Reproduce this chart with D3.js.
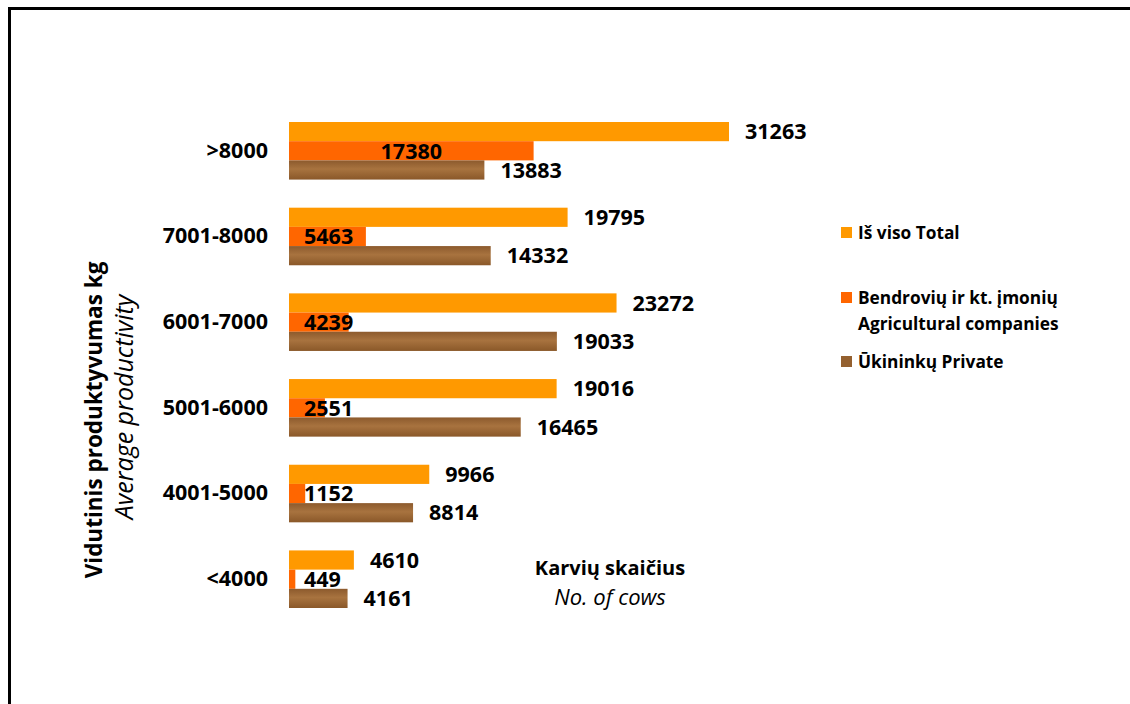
<!DOCTYPE html>
<html>
<head>
<meta charset="utf-8">
<script src="https://cdn.jsdelivr.net/npm/d3@7"></script>
<style>
  body { margin: 0; background: #fff; }
  text { font-family: "Open Sans", "Noto Sans", sans-serif; fill: #000; }
</style>
</head>
<body>
<div id="chart"></div>
<script>
// Chart data
var categories = [">8000", "7001-8000", "6001-7000", "5001-6000", "4001-5000", "<4000"];
var totalCows = [31263, 19795, 23272, 19016, 9966, 4610];
var companyCows = [17380, 5463, 4239, 2551, 1152, 449];
var privateCows = [13883, 14332, 19033, 16465, 8814, 4161];
var seriesNames = ["Iš viso Total", "Bendrovių ir kt. įmonių\nAgricultural companies", "Ūkininkų Private"];
var seriesKeys = ["total", "company", "private"];

var svgWidth = 1130;
var svgHeight = 704;

var svg = d3.select("#chart")
  .append("svg")
  .attr("width", svgWidth)
  .attr("height", svgHeight);

// wood-like fill for private farms
var defs = svg.append("defs");
var grad = defs.append("linearGradient")
  .attr("id", "wood")
  .attr("x1", 0).attr("y1", 0).attr("x2", 0).attr("y2", 1);
grad.append("stop").attr("offset", "0%").attr("stop-color", "#8c5a2d");
grad.append("stop").attr("offset", "45%").attr("stop-color", "#a8733f");
grad.append("stop").attr("offset", "100%").attr("stop-color", "#8a5829");

var colors = { total: "#ff9900", company: "#ff6600", private: "url(#wood)" };
var legendColors = { total: "#ff9900", company: "#ff6600", private: "#94602f" };

// frame
svg.append("rect")
  .attr("x", 9.5).attr("y", 8.5)
  .attr("width", 1300).attr("height", 900)
  .attr("fill", "none")
  .attr("stroke", "#000")
  .attr("stroke-width", 3);

var rows = categories.map(function(c, i) {
  return { cat: c, total: totalCows[i], company: companyCows[i], private: privateCows[i] };
});

// scales
var x0 = 289;
var xScale = d3.scaleLinear()
  .domain([0, 35000])
  .range([x0, x0 + 35000 * 440 / 31263]);

var yScale = d3.scaleBand()
  .domain(categories)
  .range([122, 608])
  .paddingInner(0.328)
  .paddingOuter(0);

var ySub = d3.scaleBand()
  .domain(seriesKeys)
  .range([0, yScale.bandwidth()]);

// category axis
var yAxis = svg.append("g")
  .attr("transform", `translate(${x0}, 0)`)
  .call(d3.axisLeft(yScale).tickSize(0).tickPadding(21));
yAxis.select(".domain").remove();
yAxis.selectAll("text")
  .style("font-family", "'Open Sans', sans-serif")
  .style("font-size", "21.5px")
  .style("font-weight", "bold")
  .attr("fill", "#000");

// bars
var groups = svg.selectAll(".grp")
  .data(rows)
  .enter()
  .append("g")
  .attr("class", "grp")
  .attr("transform", d => `translate(0, ${yScale(d.cat)})`);

seriesKeys.forEach(function(k) {
  groups.append("rect")
    .attr("x", xScale(0))
    .attr("y", ySub(k))
    .attr("width", d => xScale(d[k]) - xScale(0))
    .attr("height", ySub.bandwidth())
    .attr("fill", colors[k]);
});

// value labels
function addLabel(k) {
  return groups.append("text")
    .attr("y", ySub(k) + ySub.bandwidth() / 2)
    .attr("dy", "0.36em")
    .style("font-size", "21.5px")
    .style("font-weight", "bold")
    .text(d => d[k]);
}
addLabel("total").attr("x", d => xScale(d.total) + 16);
addLabel("private").attr("x", d => xScale(d.private) + 16);
addLabel("company").each(function(d) {
  var w = this.getComputedTextLength();
  var mid = (xScale(0) + xScale(d.company)) / 2;
  d3.select(this).attr("x", Math.max(mid - w / 2, xScale(0) + 15));
});

// y axis titles
svg.append("text")
  .attr("transform", "translate(102, 420) rotate(-90)")
  .attr("text-anchor", "middle")
  .style("font-size", "22.5px")
  .style("font-weight", "bold")
  .text("Vidutinis produktyvumas kg");
svg.append("text")
  .attr("transform", "translate(133, 407) rotate(-90)")
  .attr("text-anchor", "middle")
  .style("font-size", "25px")
  .style("font-style", "italic")
  .text("Average productivity");

// x title
svg.append("text")
  .attr("x", 610).attr("y", 575)
  .attr("text-anchor", "middle")
  .style("font-size", "20px")
  .style("font-weight", "bold")
  .text("Karvių skaičius");
svg.append("text")
  .attr("x", 610).attr("y", 605)
  .attr("text-anchor", "middle")
  .style("font-size", "22px")
  .style("font-style", "italic")
  .text("No. of cows");

// legend
var legendY = [233, 311, 362];
var legend = svg.selectAll(".leg")
  .data(seriesKeys)
  .enter()
  .append("g")
  .attr("class", "leg")
  .attr("transform", (d, i) => `translate(841, ${legendY[i]})`);

legend.append("rect")
  .attr("x", 0)
  .attr("y", (d, i) => i === 1 ? -19 : -6)
  .attr("width", 11).attr("height", 11)
  .attr("fill", d => legendColors[d]);

legend.append("text")
  .attr("x", 17)
  .style("font-size", "17.3px")
  .style("font-weight", "bold")
  .each(function(d, i) {
    var lines = seriesNames[i].split("\n");
    var t = d3.select(this);
    var start = -(lines.length - 1) * 26 / 2;
    lines.forEach(function(l, j) {
      t.append("tspan")
        .attr("x", 17)
        .attr("y", start + j * 26)
        .attr("dy", "0.36em")
        .text(l);
    });
  });
</script>
</body>
</html>
